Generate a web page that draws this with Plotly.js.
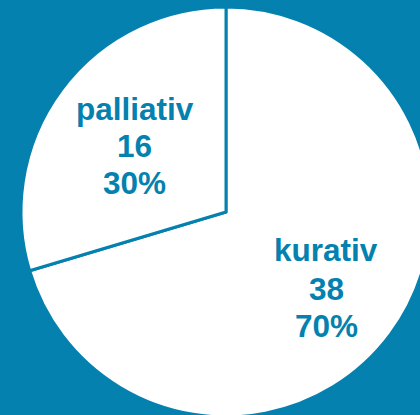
<!DOCTYPE html>
<html>
<head>
<meta charset="utf-8">
<script src="https://cdn.plot.ly/plotly-3.0.1.min.js"></script>
<style>
html, body { margin: 0; padding: 0; overflow: hidden; background: #0481ae; width: 420px; height: 415px; }
#chart { width: 440px; height: 420px; }
</style>
</head>
<body>
<div id="chart"></div>
<script>
const categories = ['kurativ', 'palliativ'];
const counts = [38, 16];
const percentLabels = ['70%', '30%'];

const W = 440, H = 420;
const bg = '#0481ae';
// label anchor (pixel centre of each text line) per category: [x, [y line1, y line2, y line3]]
const labelAnchors = [
  [326, [250, 289, 326]],
  [134.5, [109, 146, 183]]
];

const trace = {
  type: 'pie',
  labels: categories,
  values: counts,
  sort: false,
  direction: 'clockwise',
  rotation: 0,
  textinfo: 'none',
  domain: { x: [21 / W, 431 / W], y: [3 / H, 413 / H] },
  marker: { colors: ['#ffffff', '#ffffff'], line: { color: bg, width: 3 } },
  hoverinfo: 'none',
  showlegend: false
};

const annotations = [];
categories.forEach((cat, i) => {
  const lines = [cat, String(counts[i]), percentLabels[i]];
  const [ax, ys] = labelAnchors[i];
  lines.forEach((t, j) => {
    annotations.push({
      xref: 'paper', yref: 'paper',
      x: ax / W, y: 1 - ys[j] / H,
      xanchor: 'center', yanchor: 'middle',
      text: '<b>' + t + '</b>',
      showarrow: false,
      font: { family: 'Liberation Sans, Arial, sans-serif', size: 31.5, color: bg }
    });
  });
});

const layout = {
  width: W,
  height: H,
  margin: { l: 0, r: 0, t: 0, b: 0, pad: 0 },
  paper_bgcolor: bg,
  plot_bgcolor: bg,
  showlegend: false,
  annotations: annotations
};
Plotly.newPlot('chart', [trace], layout, { displayModeBar: false, staticPlot: true });
</script>
</body>
</html>
